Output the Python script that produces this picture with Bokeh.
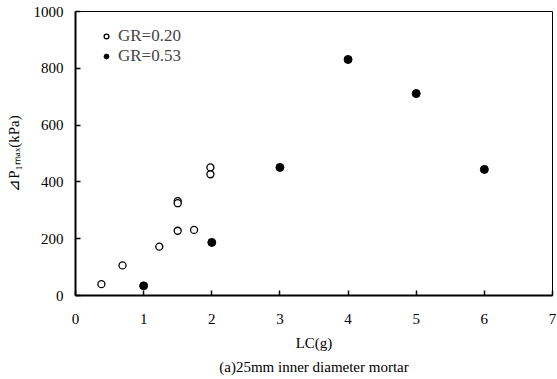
from bokeh.plotting import figure
from bokeh.models import Legend, LegendItem, Title, FixedTicker
from bokeh.embed import file_html
from bokeh.resources import INLINE

# GR = 0.20 (open circles)
lc_020 = [0.38, 0.69, 1.23, 1.50, 1.74, 1.50, 1.50, 1.98, 1.98]
dp_020 = [40, 106, 172, 228, 231, 332, 325, 451, 427]
# GR = 0.53 (filled circles)
lc_053 = [1.0, 2.0, 3.0, 4.0, 5.0, 6.0]
dp_053 = [34, 187, 451, 831, 711, 444]

x_ticks = [0, 1, 2, 3, 4, 5, 6, 7]
y_ticks = [0, 200, 400, 600, 800, 1000]

FONT = "Liberation Serif"

p = figure(width=557, height=379, output_backend="svg", toolbar_location=None,
           x_range=(0, 7), y_range=(0, 1000),
           min_border_left=75, min_border_right=5, min_border_top=11, min_border_bottom=84)
p.grid.visible = False
p.outline_line_color = "black"
p.outline_line_width = 1
p.background_fill_color = "white"
p.border_fill_color = "white"

for ax in (p.xaxis[0], p.yaxis[0]):
    ax.axis_line_width = 2
    ax.axis_line_color = "black"
    ax.major_tick_in = 5
    ax.major_tick_out = 0
    ax.major_tick_line_color = "black"
    ax.major_tick_line_width = 1.5
    ax.minor_tick_line_color = None
    ax.major_label_text_font = FONT
    ax.major_label_text_font_size = "15px"
    ax.major_label_text_color = "black"
    ax.axis_label_text_font = FONT
    ax.axis_label_text_font_size = "15px"
    ax.axis_label_text_font_style = "normal"
    ax.axis_label_text_color = "black"

p.xaxis[0].ticker = FixedTicker(ticks=x_ticks)
p.yaxis[0].ticker = FixedTicker(ticks=y_ticks)
p.xaxis[0].major_label_standoff = 18
p.yaxis[0].major_label_standoff = 12
p.xaxis[0].axis_label = "LC(g)"
p.xaxis[0].axis_label_standoff = 8
p.yaxis[0].axis_label = "⊿P₁ₘₐₓ(kPa)"
p.yaxis[0].axis_label_standoff = 9

r1 = p.scatter(lc_020, dp_020, marker="circle", size=7, fill_color="white",
               line_color="black", line_width=1.3)
r2 = p.scatter(lc_053, dp_053, marker="circle", size=8, fill_color="black",
               line_color="black", line_width=1)

legend = Legend(items=[LegendItem(label="GR=0.20", renderers=[r1]),
                       LegendItem(label="GR=0.53", renderers=[r2])],
                location=(25, 229), border_line_alpha=0, background_fill_alpha=0,
                padding=0, margin=0, spacing=0, glyph_width=12, glyph_height=20,
                label_height=20, label_standoff=6,
                label_text_font=FONT, label_text_font_size="17px")
p.add_layout(legend)

cap = Title(text="(a)25mm inner diameter mortar", align="center",
            text_font=FONT, text_font_size="15px", text_font_style="normal",
            text_color="black", standoff=6)
p.add_layout(cap, "below")

open("out.html", "w").write(file_html(p, INLINE))
